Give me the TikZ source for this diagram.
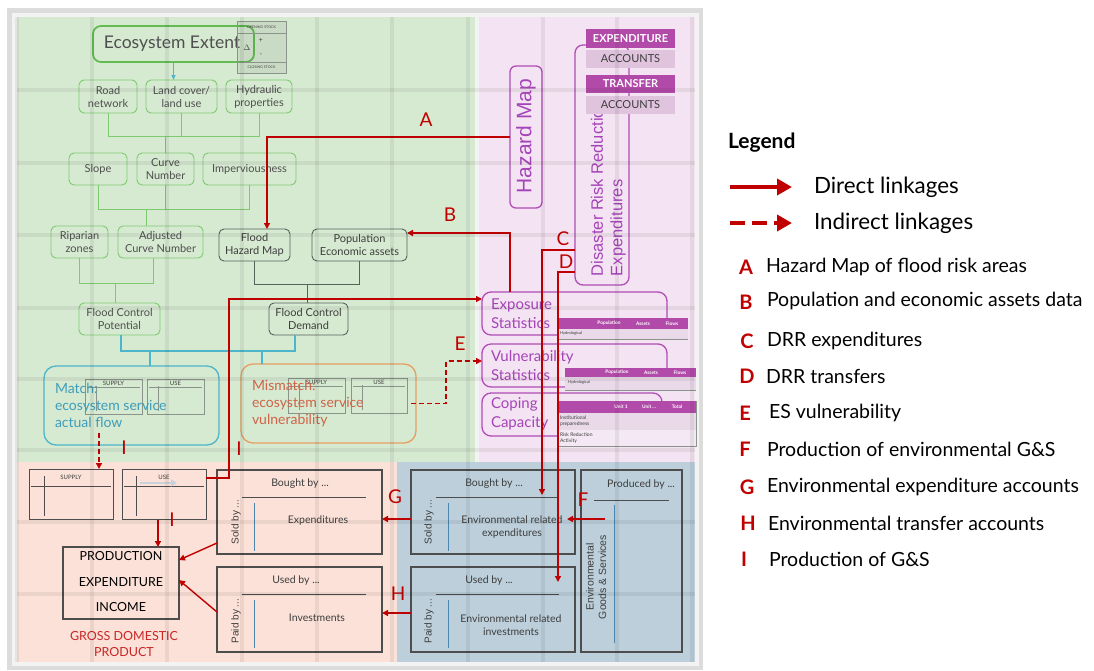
\documentclass[tikz,border=0pt]{standalone}
\usepackage{fontspec}
\setmainfont{Lato}
\newfontfamily\arialf{Liberation Sans}
\usetikzlibrary{arrows.meta}
\newcommand\fsz[2]{\fontsize{#1pt}{#2pt}\selectfont}

\definecolor{framegrey}{HTML}{DCDCDC}
\definecolor{framein}{HTML}{F3F3F3}
\definecolor{gfill}{HTML}{D6E9D1}
\definecolor{pfill}{HTML}{F4E3F2}
\definecolor{sfill}{HTML}{FBE1D7}
\definecolor{bfill}{HTML}{BCCFDA}
\definecolor{gline}{HTML}{7DCB6E}
\definecolor{gline2}{HTML}{62BC52}
\definecolor{gtxt}{HTML}{4F4F4F}
\definecolor{dline}{HTML}{55635A}
\definecolor{dtxt}{HTML}{3E3E3E}
\definecolor{teal1}{HTML}{4DB6CA}
\definecolor{matchtxt}{HTML}{3E9DBA}
\definecolor{orange1}{HTML}{E4A062}
\definecolor{mistxt}{HTML}{CF6348}
\definecolor{pline}{HTML}{B04DB6}
\definecolor{ptxt}{HTML}{A544B8}
\definecolor{acchead}{HTML}{B24AA9}
\definecolor{accbody}{HTML}{E0C3DD}
\definecolor{tabrow}{HTML}{E9D9E9}
\definecolor{tabrow2}{HTML}{F3E8F3}
\definecolor{rline}{HTML}{C00000}
\definecolor{bxline}{HTML}{4D4D4D}
\definecolor{blueline}{HTML}{4A86B0}
\definecolor{stockln}{HTML}{8A948A}
\definecolor{flowgrey}{HTML}{C9D2DB}

% small supply/use table: name, cx, cy, w, h, label, rule drop, column offset, colour
\newcommand\mtab[9]{%
  \node[draw=#9, line width=0.7pt, minimum width=#4, minimum height=#5] (#1) at (#2,#3) {};
  \node[font=\fsz{6}{7}, text=dtxt] (#1-h) at ([yshift=-#7pt/2]#1.north) {#6};
  \draw[#9, line width=0.5pt] ([xshift=2pt,yshift=-#7pt]#1.north west) -- ([xshift=-2pt,yshift=-#7pt]#1.north east);
  \draw[#9, line width=0.5pt] ([xshift=#8pt,yshift=-7pt]#1.north west) -- ([xshift=#8pt,yshift=3.5pt]#1.south west);
}

\begin{document}
\begin{tikzpicture}[x=1pt,y=-1pt,
  every node/.style={inner sep=0pt,outer sep=0pt},
  gbox/.style={draw=gline,line width=0.9pt,rounded corners=5pt,align=center,text=gtxt,font=\fsz{11}{13}},
  dbox/.style={gbox,draw=dline,text=dtxt},
  glink/.style={draw=gline,line width=0.9pt},
  dlink/.style={draw=dline,line width=0.9pt},
  tlink/.style={draw=teal1,line width=1.1pt},
  redl/.style={draw=rline,line width=1.4pt},
  redarr/.style={redl,-{Triangle[length=6pt,width=6pt]}},
  reddash/.style={redarr,dash pattern=on 5pt off 3pt},
  lettr/.style={text=rline,font=\fsz{19}{21}},
  pbox/.style={draw=pline,line width=1.3pt,rounded corners=8pt},
  stattxt/.style={anchor=west,align=left,text=ptxt,font=\fsz{15}{19}},
  acchd/.style={fill=acchead,text=white,font=\bfseries\fsz{11}{12},minimum width=89},
  accbd/.style={fill=accbody,text=dtxt,font=\fsz{11}{12},minimum width=89},
  tabhd/.style={fill=acchead,text=white,font=\bfseries\fsz{4.8}{5.5}},
  tabtx/.style={text=dtxt,font=\fsz{5}{6},anchor=west,align=left},
  bxbox/.style={draw=bxline,line width=1.1pt},
  bxtxt/.style={text=dtxt,font=\fsz{10.5}{12.5},align=center},
  sidetxt/.style={rotate=90,text=dtxt,font=\arialf\fsz{10}{12}},
  bxrule/.style={draw=bxline,line width=0.8pt},
  bluerule/.style={draw=blueline,line width=0.9pt},
  gridband/.style={draw=black,line width=4.5pt,opacity=0.06},
  legtxt/.style={anchor=west,font=\fsz{19.5}{23}},
  leglet/.style={text=rline,font=\bfseries\fsz{20}{24}}
]
\useasboundingbox (0,0) rectangle (1094,670);

% ---------- panels ----------
\fill[framegrey] (7,8) rectangle (703,670);
\fill[framein] (12,13) rectangle (699,666);
\fill[gfill] (17,17) rectangle (475,462);
\fill[pfill] (479,17) rectangle (695,462);
\fill[sfill] (17,462) rectangle (397,662);
\fill[bfill] (397,462) rectangle (695,662);

% ---------- ecosystem extent ----------
\node[gbox,draw=gline2,line width=1.8pt,rounded corners=8pt,minimum width=161,minimum height=36,font=\fsz{17.5}{20}] (eco) at (173.5,44) {Ecosystem Extent\hspace*{3pt}};
\node[font=\fsz{8}{9},text=gtxt] (delta) at (247,48) {$\Delta$};
\node[draw=stockln,line width=0.7pt,fill=black,fill opacity=0.06,minimum width=49,minimum height=52] (stock) at (261.5,47) {};
\draw[stockln,line width=0.5pt] ([yshift=-12pt]stock.north west) -- ([yshift=-12pt]stock.north east);
\draw[stockln,line width=0.5pt] ([yshift=11pt]stock.south west) -- ([yshift=11pt]stock.south east);
\node[font=\fsz{3.6}{4},text=dtxt] (stock-o) at ([yshift=-6pt]stock.north) {OPENING STOCK};
\node[font=\fsz{3.6}{4},text=dtxt] (stock-c) at ([yshift=5.5pt]stock.south) {CLOSING STOCK};
\node[font=\fsz{7}{8},text=dtxt] (stock-p) at (261,40) {+};
\node[font=\fsz{7}{8},text=dtxt] (stock-m) at (261,55) {-};

% ---------- biophysical inputs ----------
\node[gbox,minimum width=58,minimum height=33] (road) at (108,96.5) {Road\\network};
\node[gbox,minimum width=71,minimum height=33] (land) at (181.5,96.5) {Land cover/\\land use};
\node[gbox,minimum width=66,minimum height=33] (hyd) at (259,96.5) {Hydraulic\\properties};
\node[gbox,minimum width=58,minimum height=32] (slope) at (98,169) {Slope};
\node[gbox,minimum width=57,minimum height=32] (curve) at (165.5,169) {Curve\\Number};
\node[gbox,minimum width=93,minimum height=32] (imp) at (249.5,169) {Imperviousness};
\node[gbox,minimum width=57,minimum height=32] (rip) at (79.5,242) {Riparian\\zones};
\node[gbox,minimum width=85,minimum height=32] (adj) at (160.5,242) {Adjusted\\Curve Number};
\node[dbox,minimum width=71,minimum height=32] (fhm) at (254.5,245) {Flood\\Hazard Map};
\node[dbox,minimum width=95,minimum height=32] (pop) at (359.5,245) {Population\\Economic assets};
\node[gbox,minimum width=81,minimum height=32] (fcp) at (119.5,319) {Flood Control\\Potential};
\node[dbox,minimum width=79,minimum height=32] (fcd) at (308.5,319) {Flood Control\\Demand};

\draw[tlink,-{Triangle[length=5pt,width=4pt]}] (eco.south) -- (eco.south |- land.north);

\coordinate (j1) at (164,136);
\draw[glink] (road.south) -- (road.south |- j1) -- (hyd.south |- j1) -- (hyd.south);
\draw[glink] (land.south) -- (land.south |- j1);
\draw[glink] (curve.north) -- (curve.north |- j1);

\coordinate (j2) at (146,209);
\draw[glink] (slope.south) -- (slope.south |- j2) -- (imp.south |- j2) -- (imp.south);
\draw[glink] (curve.south) -- (curve.south |- j2);
\draw[glink] (j2) -- (j2 |- adj.north);

\coordinate (j3) at (115,283);
\coordinate (adjS) at ([xshift=-7.5pt]adj.south);
\draw[glink] (rip.south) -- (rip.south |- j3) -- (adjS |- j3) -- (adjS);
\draw[glink] (j3) -- (j3 |- fcp.north);

\coordinate (j4) at (307,284);
\draw[dlink] (fhm.south) -- (fhm.south |- j4) -- (pop.south |- j4) -- (pop.south);
\draw[dlink] (j4) -- (j4 |- fcd.north);

% ---------- match / mismatch ----------
\node[draw=teal1,line width=1.3pt,rounded corners=12pt,minimum width=175,minimum height=79] (match) at (131.5,405.5) {};
\node[draw=orange1,line width=1.3pt,rounded corners=12pt,minimum width=175,minimum height=79] (mis) at (328.5,403.5) {};
\coordinate (j5) at (150,351);
\coordinate (j6) at (262,351);
\coordinate (fcpS) at ([xshift=1.5pt]fcp.south);
\coordinate (fcdS) at ([xshift=-13.5pt]fcd.south);
\draw[tlink] (fcpS) -- (fcpS |- j5) -- (fcdS |- j5) -- (fcdS);
\draw[tlink] (j5) -- (j5 |- match.north);
\draw[tlink] (j6) -- (j6 |- mis.north);

\mtab{msup}{113.5}{396.5}{57}{35}{SUPPLY}{8}{11}{stockln}
\mtab{muse}{175.5}{396.5}{57}{35}{USE}{8}{11}{stockln}
\mtab{xsup}{316.5}{395.5}{57}{35}{SUPPLY}{8}{11}{stockln}
\mtab{xuse}{379}{395.5}{56}{35}{USE}{8}{11}{stockln}
\node[anchor=west,align=left,text=matchtxt,font=\fsz{14}{17}] (matcht) at (55,405) {Match:\\ecosystem service\\actual flow};
\node[anchor=west,align=left,text=mistxt,font=\fsz{14}{17}] (mist) at (252,403.5) {Mismatch:\\ecosystem service\\vulnerability};

% ---------- disaster risk side ----------
\node[pbox,minimum width=32,minimum height=142,rounded corners=6pt] (haz) at (526,137) {};
\node[rotate=90,text=ptxt,font=\arialf\fsz{21}{24}] (hazt) at (526,136) {Hazard Map};
\node[pbox,minimum width=54,minimum height=240] (drr) at (602,165) {};
\node[rotate=90,anchor=west,text=ptxt,font=\arialf\fsz{16.5}{18}] (drr1) at (597,276) {Disaster Risk Reduction};
\node[rotate=90,anchor=west,text=ptxt,font=\arialf\fsz{16.5}{18}] (drr2) at (618,276) {Expenditures};
\node[acchd,minimum height=19] (exph) at (630.5,38.5) {EXPENDITURE};
\node[accbd,minimum height=18] (expa) at (630.5,59) {ACCOUNTS};
\node[acchd,minimum height=18] (trah) at (630.5,84) {TRANSFER};
\node[accbd,minimum height=18] (traa) at (630.5,105) {ACCOUNTS};

\node[pbox,minimum width=185,minimum height=43,rounded corners=9pt] (expo) at (574.5,313.5) {};
\node[stattxt] (expot) at (491,313.5) {Exposure\\Statistics};
\node[pbox,minimum width=185,minimum height=43,rounded corners=9pt] (vul) at (574.5,365.5) {};
\node[stattxt] (vult) at (491,365.5) {Vulnerability\\Statistics};
\node[pbox,minimum width=180,minimum height=43,rounded corners=9pt] (cop) at (572,414.5) {};
\node[stattxt] (copt) at (491,414) {Coping\\Capacity};

% exposure table
\node[tabhd,minimum width=131,minimum height=11] (et-h) at (622.5,323.5) {};
\node[fill=tabrow,minimum width=131,minimum height=10] (et-r) at (622.5,334) {};
\draw[stockln,line width=0.6pt] (et-r.south west) -- (et-r.south east);
\node[tabhd,fill=none] (et-1) at (609,323.5) {Population};
\node[tabhd,fill=none] (et-2) at (643,323.5) {Assets};
\node[tabhd,fill=none] (et-3) at (672,323.5) {Flows};
\node[tabtx,font=\fsz{4}{5}] (et-4) at (560,333) {Hydrological};
% vulnerability table
\node[tabhd,minimum width=131,minimum height=9] (vt-h) at (630.5,372.5) {};
\node[fill=tabrow,minimum width=131,minimum height=13] (vt-r) at (630.5,383.5) {};
\draw[stockln,line width=0.6pt] (vt-r.south west) -- (vt-r.south east);
\node[tabhd,fill=none] (vt-1) at (617,372.5) {Population};
\node[tabhd,fill=none] (vt-2) at (651,372.5) {Assets};
\node[tabhd,fill=none] (vt-3) at (680,372.5) {Flows};
\node[tabtx,font=\fsz{4}{5}] (vt-4) at (568,382) {Hydrological};
% coping table
\node[tabhd,minimum width=139,minimum height=12] (ct-h) at (626.5,407) {};
\node[fill=tabrow,minimum width=139,minimum height=17] (ct-r1) at (626.5,421.5) {};
\node[fill=tabrow2,minimum width=139,minimum height=16] (ct-r2) at (626.5,438) {};
\draw[stockln,line width=0.6pt] (ct-r2.south west) -- (ct-r2.south east) -- (ct-h.north east);
\node[tabhd,fill=none] (ct-1) at (621,407) {Unit 1};
\node[tabhd,fill=none] (ct-2) at (649,407) {Unit ...};
\node[tabhd,fill=none] (ct-3) at (677,407) {Total};
\node[tabtx] (ct-4) at (560,421.5) {Institutional\\preparedness};
\node[tabtx] (ct-5) at (560,438) {Risk Reduction\\Activity};

% ---------- economic accounts ----------
\mtab{bsup}{71}{494}{84}{50}{SUPPLY}{17}{15}{bxline}
\mtab{buse}{164}{494}{84}{50}{USE}{17}{14}{bxline}
\draw[flowgrey,line width=2.5pt,-{Triangle[length=6pt,width=7pt]}] ([xshift=27pt,yshift=11pt]bsup.east) -- ([xshift=-29pt,yshift=11pt]buse.east);

\node[bxbox,minimum width=116,minimum height=72] (gdp) at (121,583) {};
\node[text=black,font=\fsz{12.5}{14}] (gdp1) at (121,556) {PRODUCTION};
\node[text=black,font=\fsz{12.5}{14}] (gdp2) at (121,582) {EXPENDITURE};
\node[text=black,font=\fsz{12.5}{14}] (gdp3) at (121,607) {INCOME};
\node[text=rline!85!white,font=\fsz{12.5}{16},align=center] (gdpt) at (124,644) {GROSS DOMESTIC\\PRODUCT};

\node[bxbox,minimum width=165,minimum height=84] (expb) at (299.5,512) {};
\node[bxtxt] (expb-h) at (300,484) {Bought by ...};
\draw[bxrule] ([xshift=25pt,yshift=-27pt]expb.north west) -- ([xshift=-16pt,yshift=-27pt]expb.north east);
\node[sidetxt] (expb-s) at (236,522) {Sold by ...};
\draw[bluerule] ([xshift=37pt,yshift=-33pt]expb.north west) -- ([xshift=37pt,yshift=3pt]expb.south west);
\node[bxtxt] (expb-t) at (318,521) {Expenditures};

\node[bxbox,minimum width=165,minimum height=85] (invb) at (299.5,609.5) {};
\node[bxtxt] (invb-h) at (296,581) {Used by ...};
\draw[bxrule] ([xshift=25pt,yshift=-27pt]invb.north west) -- ([xshift=-16pt,yshift=-27pt]invb.north east);
\node[sidetxt] (invb-s) at (236,621) {Paid by ...};
\draw[bluerule] ([xshift=37pt,yshift=-33pt]invb.north west) -- ([xshift=37pt,yshift=4pt]invb.south west);
\node[bxtxt] (invb-t) at (317,618) {Investments};

\node[bxbox,minimum width=164,minimum height=84] (envexp) at (493,512) {};
\node[bxtxt] (envexp-h) at (494,484) {Bought by ...};
\draw[bxrule] ([xshift=25pt,yshift=-27pt]envexp.north west) -- ([xshift=-16pt,yshift=-27pt]envexp.north east);
\node[sidetxt] (envexp-s) at (429,522) {Sold by ...};
\draw[bluerule] ([xshift=37pt,yshift=-33pt]envexp.north west) -- ([xshift=37pt,yshift=3pt]envexp.south west);
\node[bxtxt] (envexp-t) at (512,527) {Environmental related\\expenditures};

\node[bxbox,minimum width=164,minimum height=85] (envinv) at (493,609.5) {};
\node[bxtxt] (envinv-h) at (489,581) {Used by ...};
\draw[bxrule] ([xshift=25pt,yshift=-27pt]envinv.north west) -- ([xshift=-16pt,yshift=-27pt]envinv.north east);
\node[sidetxt] (envinv-s) at (429,621) {Paid by ...};
\draw[bluerule] ([xshift=37pt,yshift=-33pt]envinv.north west) -- ([xshift=37pt,yshift=4pt]envinv.south west);
\node[bxtxt] (envinv-t) at (511,625) {Environmental related\\investments};

\node[bxbox,minimum width=101,minimum height=182] (prod) at (631.5,561) {};
\node[bxtxt] (prod-h) at (641,485) {Produced by ...};
\draw[bxrule] ([xshift=13pt,yshift=-30pt]prod.north west) -- ([xshift=-13pt,yshift=-30pt]prod.north east);
\draw[bluerule] ([xshift=33pt,yshift=-35pt]prod.north west) -- ([xshift=33pt,yshift=9pt]prod.south west);
\node[sidetxt,align=center,font=\arialf\fsz{10.5}{12.5}] (prod-t) at (596,577) {Environmental\\Goods \& Services};

% ---------- linkages ----------
\draw[redarr] (haz.west) -| ([xshift=12.5pt]fhm.north);
\draw[redarr] ([xshift=-64.5pt]expo.north) |- ([yshift=12pt]pop.east);
\draw[redarr] ([yshift=16pt]buse.east) -- ++(23,0) |- ([yshift=14.5pt]expo.west);
\draw[reddash] ([xshift=-5pt]mis.east) -- ++(35,0) |- ([yshift=4.5pt]vul.west);
\draw[reddash] ([xshift=28pt,yshift=36pt]bsup.north) -- ([xshift=28pt]bsup.north);
\draw[redarr] ([xshift=37pt,yshift=27pt]gdp.north) -- ([xshift=37pt]gdp.north);
\draw[redarr] ([yshift=-31pt]expb.west) -- ([yshift=23pt]gdp.east);
\draw[redarr] ([yshift=-2.5pt]invb.west) -- ([yshift=3pt]gdp.east);
\draw[redarr] ([yshift=-7pt]envexp.west) -- ([yshift=-7pt]expb.east);
\draw[redarr] ([yshift=-3.5pt]envinv.west) -- ([yshift=-3.5pt]invb.east);
\coordinate (fstart) at ([xshift=24pt,yshift=42pt]prod.west);
\draw[redarr] (fstart) -- ([xshift=-8pt,yshift=-7pt]envexp.east);
\coordinate (cend) at ([xshift=49pt,yshift=-25pt]envexp.north);
\draw[redarr] ([yshift=-85pt]drr.west) -| (cend);
\coordinate (dend) at ([xshift=65pt,yshift=-15pt]envinv.north);
\draw[redarr] ([yshift=-107pt]drr.west) -| (dend);

\node[lettr] (la) at (426,120) {A};
\node[lettr] (lb) at (450,215) {B};
\node[lettr] (lc) at (563,239) {C};
\node[lettr] (ld) at (566,262) {D};
\node[lettr] (le) at (460,344) {E};
\node[lettr] (lf) at (583,500) {F};
\node[lettr] (lg) at (395,497) {G};
\node[lettr] (lh) at (398,594) {H};
\node[lettr] (li1) at (124,448) {I};
\node[lettr] (li2) at (239,449) {I};
\node[lettr] (li3) at (172,520) {I};

% ---------- soft grid over the panels ----------
\foreach \gx in {17,92,167,242,317,392,468,543,617,692}
  \draw[gridband] (\gx,17) -- (\gx,662);
\foreach \gy in {90,163,235,308,379,450,522,594}
  \draw[gridband] (17,\gy) -- (695,\gy);

% ---------- legend ----------
\node[anchor=west,font=\bfseries\fsz{21}{24}] (legt) at (728,143) {Legend};
\coordinate (ls1) at (730,187);
\coordinate (le1) at (792,187);
\draw[draw=rline,line width=4pt,-{Triangle[length=15pt,width=16pt]}] (ls1) -- (le1);
\node[anchor=west,font=\fsz{22.4}{26}] (leg1) at (814,187) {Direct linkages};
\coordinate (ls2) at (730,223);
\coordinate (le2) at (792,223);
\draw[draw=rline,line width=4pt,dash pattern=on 15pt off 7pt,-{Triangle[length=15pt,width=16pt]}] (ls2) -- (le2);
\node[anchor=west,font=\fsz{22.4}{26}] (leg2) at (814,223) {Indirect linkages};

\node[leglet] (kA) at (746,267) {A}; \node[legtxt] (tA) at (766,267) {Hazard Map of flood risk areas};
\node[leglet] (kB) at (746,302) {B}; \node[legtxt] (tB) at (767,301) {Population and economic assets data};
\node[leglet] (kC) at (747,341) {C}; \node[legtxt] (tC) at (767,341) {DRR expenditures};
\node[leglet] (kD) at (747,376) {D}; \node[legtxt] (tD) at (766,376) {DRR transfers};
\node[leglet] (kE) at (745,413) {E}; \node[legtxt] (tE) at (769,413) {ES vulnerability};
\node[leglet] (kF) at (745,449) {F}; \node[legtxt] (tF) at (767,449) {Production of environmental G\&S};
\node[leglet] (kG) at (747,487) {G}; \node[legtxt] (tG) at (767,487) {Environmental expenditure accounts};
\node[leglet] (kH) at (748,523) {H}; \node[legtxt] (tH) at (768,523) {Environmental transfer accounts};
\node[leglet] (kI) at (744,559) {I}; \node[legtxt] (tI) at (769,559) {Production of G\&S};
\end{tikzpicture}
\end{document}
